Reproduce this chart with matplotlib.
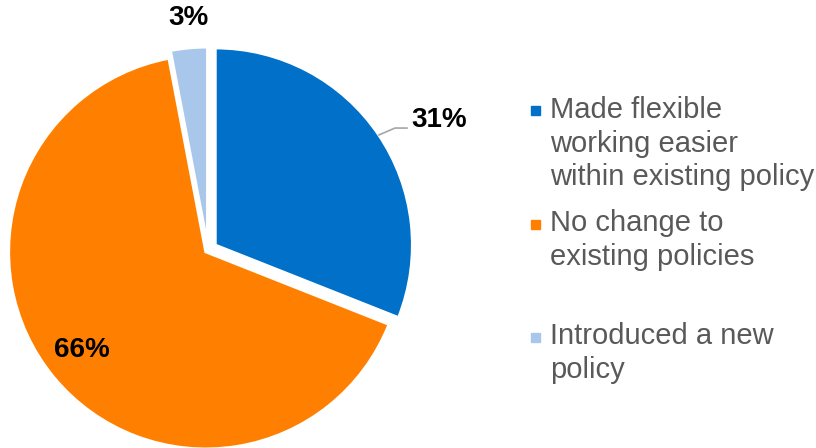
import matplotlib
matplotlib.use("Agg")
import matplotlib.pyplot as plt

labels = ["Made flexible\nworking easier\nwithin existing policy",
          "No change to\nexisting policies",
          "Introduced a new\npolicy"]
values = [31, 66, 3]
colors = ["#0070C8", "#FF8000", "#A9C7EA"]
explode = [0.045, 0.015, 0.03]

plt.rcParams['font.family'] = ['Liberation Sans', 'DejaVu Sans']

W, H = 816, 448
fig = plt.figure(figsize=(W / 100, H / 100), dpi=100)
ax = fig.add_axes([0, 0, 1, 1])

wedges, _ = ax.pie(values, colors=colors, startangle=90, counterclock=False,
                   explode=explode, radius=1.0,
                   wedgeprops=dict(edgecolor='white', linewidth=2))

# pie centre (px) and radius (px)
cx, cy, r = 208, 250, 197
ax.set_xlim(-cx / r, (W - cx) / r)
ax.set_ylim(-(H - cy) / r, cy / r)
ax.set_aspect('equal')
ax.axis('off')

# percentage labels
pct_kw = dict(fontsize=20, fontweight='bold', ha='center', va='center',
              color='black')
ax.text(1.173, 0.66, f"{values[0]}%", **pct_kw)
ax.plot([0.868, 0.949, 1.01], [0.584, 0.619, 0.619], color='#A6A6A6', lw=1.2)
ax.text(-0.10, 1.178, f"{values[2]}%", **pct_kw)
ax.text(-0.64, -0.508, f"{values[1]}%", **pct_kw)

# legend drawn beside the pie
sq_y = [111, 224, 337]
for lab, col, y in zip(labels, colors, sq_y):
    fig.add_artist(plt.Rectangle(((535 - 4.5) / W, 1 - (y + 4.5) / H),
                                 9 / W, 9 / H, transform=fig.transFigure,
                                 color=col))
    fig.text(550 / W, 1 - (y - 15) / H, lab, fontsize=21, color='#595959',
             ha='left', va='top', linespacing=1.25)

fig.savefig("out.png", dpi=100)
